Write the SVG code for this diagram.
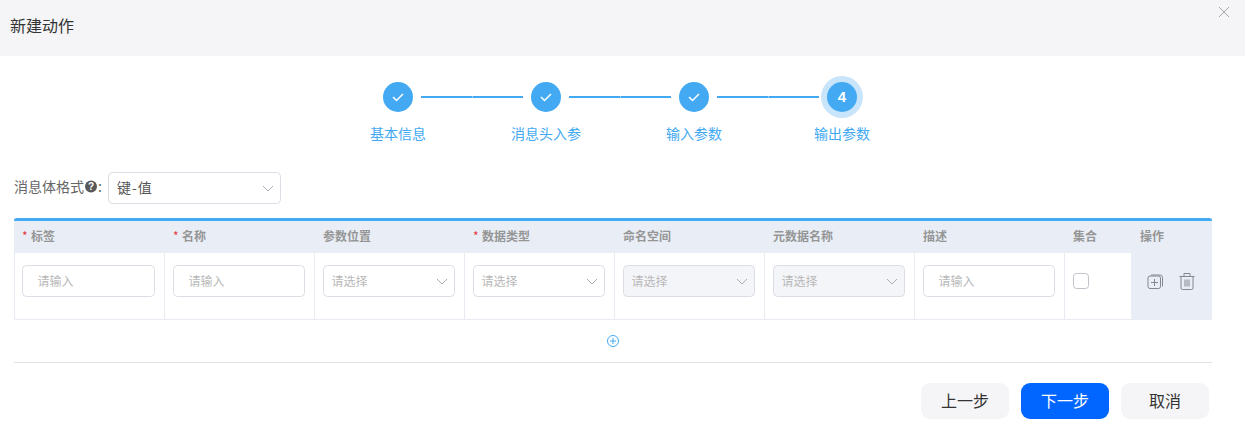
<svg xmlns="http://www.w3.org/2000/svg" width="1245" height="430" viewBox="0 0 1245 430">
<style>
text{font-family:"Noto Sans CJK SC","Liberation Sans",sans-serif}
.step{font-size:14px;fill:#42a9f2;text-anchor:middle}
.th{font-size:12px;fill:#969696;font-weight:700}
.star{font-size:12px;fill:#e5383b}
.ph{font-size:12px;fill:#b8b8b8}
.box{fill:#fff;stroke:#dcdee6;stroke-width:1}
.dis{fill:#f4f5f9;stroke:#dcdee6;stroke-width:1}
.chev{fill:none;stroke:#a9adb5;stroke-width:1}
.grid{stroke:#e8ebf2;stroke-width:1;fill:none}
.link{stroke:#42a9f2;stroke-width:2}
.joint{stroke:#8ecbf7;stroke-width:2}
.check{fill:none;stroke:#fff;stroke-width:1.5}
.icon{fill:none;stroke:#84888f;stroke-width:1}
.btn{font-size:16px;fill:#333;text-anchor:middle}
</style>
<defs>
<path id="chevron" class="chev" d="M0 0l5 5 5-5"/>
<path id="tick" class="check" d="M-5 0l3.500 3.500 6.500-6.500"/>
</defs>
<rect width="1245" height="430" fill="#fff"/>
<g id="header">
<rect width="1245" height="56" fill="#f5f5f7"/>
<text x="10" y="32" font-size="16" fill="#333">新建动作</text>
<path d="M1219 7l10 10M1229 7l-10 10" stroke="#a8a8a8" stroke-width="1" fill="none"/>
</g>
<g id="connectors">
<line class="link" x1="421" y1="97" x2="523" y2="97"/>
<line class="link" x1="569" y1="97" x2="671" y2="97"/>
<line class="link" x1="717" y1="97" x2="819" y2="97"/>
<path class="joint" d="M472 97h1M620 97h1M768 97h1"/>
</g>
<g id="step1"><circle cx="398" cy="97" r="15" fill="#42a9f2"/><use href="#tick" x="398" y="97"/><text class="step" x="398" y="139">基本信息</text></g>
<g id="step2"><circle cx="546" cy="97" r="15" fill="#42a9f2"/><use href="#tick" x="546" y="97"/><text class="step" x="546" y="139">消息头入参</text></g>
<g id="step3"><circle cx="694" cy="97" r="15" fill="#42a9f2"/><use href="#tick" x="694" y="97"/><text class="step" x="694" y="139">输入参数</text></g>
<g id="step4"><circle cx="842" cy="97" r="21" fill="#c9e5fb"/><circle cx="842" cy="97" r="15" fill="#42a9f2"/><text x="842" y="102" font-size="15" font-weight="700" fill="#fff" text-anchor="middle" style="font-family:'Liberation Sans',sans-serif">4</text><text class="step" x="842" y="139">输出参数</text></g>
<g id="format">
<text x="14" y="192" font-size="14" fill="#666">消息体格式</text>
<circle cx="91" cy="186.500" r="6" fill="#595959"/>
<text x="91" y="190" font-size="10" font-weight="700" fill="#fff" text-anchor="middle" style="font-family:'Liberation Sans',sans-serif">?</text>
<text x="98" y="192" font-size="14" fill="#666">:</text>
<rect class="box" x="108.500" y="172.500" width="172" height="31" rx="4"/>
<text x="117" y="193" font-size="14" fill="#555" letter-spacing="1">键-值</text>
<use href="#chevron" x="263" y="186"/>
</g>
<g id="table">
<rect x="14" y="218" width="1198" height="35" fill="#e9eef6"/>
<rect x="1131" y="253" width="81" height="66" fill="#e9eef6"/>
<path d="M14 221q0-3 3-3H1209q3 0 3 3z" fill="#42a9f2"/>
<path class="grid" d="M14.500 253V319.500H1212M164.500 253V319M314.500 253V319M464.500 253V319M614.500 253V319M764.500 253V319M914.500 253V319M1064.500 253V319"/>
</g>
<g id="col-label"><text class="star" x="22" y="241">*</text><text class="th" x="31" y="241">标签</text><rect class="box" x="22.500" y="265.500" width="132" height="31" rx="4"/><text class="ph" x="37.500" y="286">请输入</text></g>
<g id="col-name"><text class="star" x="173" y="241">*</text><text class="th" x="182" y="241">名称</text><rect class="box" x="173.500" y="265.500" width="131" height="31" rx="4"/><text class="ph" x="188.500" y="286">请输入</text></g>
<g id="col-position"><text class="th" x="323" y="241">参数位置</text><rect class="box" x="323.500" y="265.500" width="131" height="31" rx="4"/><text class="ph" x="331.500" y="286">请选择</text><use href="#chevron" x="437" y="279"/></g>
<g id="col-type"><text class="star" x="473" y="241">*</text><text class="th" x="482" y="241">数据类型</text><rect class="box" x="473.500" y="265.500" width="131" height="31" rx="4"/><text class="ph" x="481.500" y="286">请选择</text><use href="#chevron" x="587" y="279"/></g>
<g id="col-namespace"><text class="th" x="623" y="241">命名空间</text><rect class="dis" x="623.500" y="265.500" width="131" height="31" rx="4"/><text class="ph" x="631.500" y="286">请选择</text><use href="#chevron" x="737" y="279"/></g>
<g id="col-metadata"><text class="th" x="773" y="241">元数据名称</text><rect class="dis" x="773.500" y="265.500" width="131" height="31" rx="4"/><text class="ph" x="781.500" y="286">请选择</text><use href="#chevron" x="887" y="279"/></g>
<g id="col-desc"><text class="th" x="923" y="241">描述</text><rect class="box" x="923.500" y="265.500" width="131" height="31" rx="4"/><text class="ph" x="938.500" y="286">请输入</text></g>
<g id="col-set"><text class="th" x="1073" y="241">集合</text><rect x="1073.500" y="273.500" width="15" height="15" rx="3" fill="#fff" stroke="#bfc2c9"/></g>
<g id="col-actions"><text class="th" x="1140" y="241">操作</text>
<rect class="icon" x="1148" y="276" width="12.500" height="12.500" rx="2"/>
<path class="icon" d="M1151 275h9q2.500 0 2.500 2.500v9M1151 282.500h7M1154.500 279v7"/>
<path class="icon" d="M1179.500 276.500h15M1184 276.500v-3h6v3M1181 276.500v11.500q0 1.500 1.500 1.500h9q1.500 0 1.500-1.500v-11.500M1185 279.500v7M1187 279.500v7M1189 279.500v7"/>
</g>
<g id="add-row">
<circle cx="613" cy="341" r="5.500" fill="none" stroke="#42a9f2" stroke-width="1"/>
<path d="M610 341h6M613 338v6" stroke="#42a9f2" stroke-width="1" fill="none"/>
</g>
<line x1="14" y1="362.500" x2="1212" y2="362.500" stroke="#e3e3e3" stroke-width="1"/>
<g id="btn-prev"><rect x="921" y="383" width="88" height="36" rx="9" fill="#f5f5f7"/><text class="btn" x="965" y="407">上一步</text></g>
<g id="btn-next"><rect x="1021" y="383" width="88" height="36" rx="9" fill="#0066ff"/><text class="btn" x="1065" y="407" style="fill:#fff">下一步</text></g>
<g id="btn-cancel"><rect x="1121" y="383" width="88" height="36" rx="9" fill="#f5f5f7"/><text class="btn" x="1165" y="407">取消</text></g>
</svg>
